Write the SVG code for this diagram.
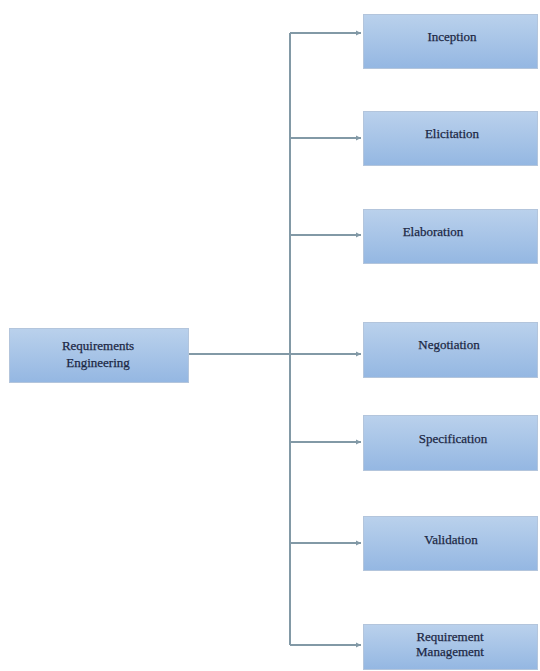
<svg xmlns="http://www.w3.org/2000/svg" width="540" height="671" viewBox="0 0 540 671">
<defs>
<linearGradient id="g" x1="0" y1="0" x2="0" y2="1">
<stop offset="0" stop-color="#bad1ec"/>
<stop offset="1" stop-color="#94b7e2"/>
</linearGradient>
<marker id="ah" markerWidth="6" markerHeight="6" refX="5" refY="3" orient="auto" markerUnits="userSpaceOnUse">
<path d="M0,0.5 L5,3 L0,5.5 z" fill="#8299a6"/>
</marker>
<style>
.box{fill:url(#g);stroke:#b3c5dc;stroke-width:1}
.t{font-family:"Liberation Serif","DejaVu Serif",serif;font-size:13px;fill:#1c2744;text-anchor:middle;stroke:#1c2744;stroke-width:0.25}
.c{fill:none;stroke:#8299a6;stroke-width:2}
</style>
</defs>
<rect width="540" height="671" fill="#ffffff"/>
<g id="connectors">
<path class="c" d="M290,33 V645"/>
<path class="c" d="M188,354 H361" marker-end="url(#ah)"/>
<path class="c" d="M290,33 H361" marker-end="url(#ah)"/>
<path class="c" d="M290,138 H361" marker-end="url(#ah)"/>
<path class="c" d="M290,235 H361" marker-end="url(#ah)"/>
<path class="c" d="M290,442 H361" marker-end="url(#ah)"/>
<path class="c" d="M290,543 H361" marker-end="url(#ah)"/>
<path class="c" d="M290,645 H361" marker-end="url(#ah)"/>
</g>
<g id="req-eng">
<rect class="box" x="9.5" y="328.5" width="179" height="54"/>
<text class="t" x="98" y="350">Requirements</text>
<text class="t" x="98" y="367">Engineering</text>
</g>
<g id="inception">
<rect class="box" x="363.5" y="14.5" width="174" height="54"/>
<text class="t" x="452" y="41">Inception</text>
</g>
<g id="elicitation">
<rect class="box" x="363.5" y="111.5" width="174" height="54"/>
<text class="t" x="452" y="138">Elicitation</text>
</g>
<g id="elaboration">
<rect class="box" x="363.5" y="209.5" width="174" height="54"/>
<text class="t" x="433" y="236">Elaboration</text>
</g>
<g id="negotiation">
<rect class="box" x="363.5" y="322.5" width="174" height="55"/>
<text class="t" x="449" y="349">Negotiation</text>
</g>
<g id="specification">
<rect class="box" x="363.5" y="415.5" width="174" height="55"/>
<text class="t" x="453" y="443">Specification</text>
</g>
<g id="validation">
<rect class="box" x="363.5" y="516.5" width="174" height="54"/>
<text class="t" x="451" y="544">Validation</text>
</g>
<g id="req-mgmt">
<rect class="box" x="363.5" y="624.5" width="174" height="45"/>
<text class="t" x="450" y="641">Requirement</text>
<text class="t" x="450" y="656">Management</text>
</g>
</svg>
